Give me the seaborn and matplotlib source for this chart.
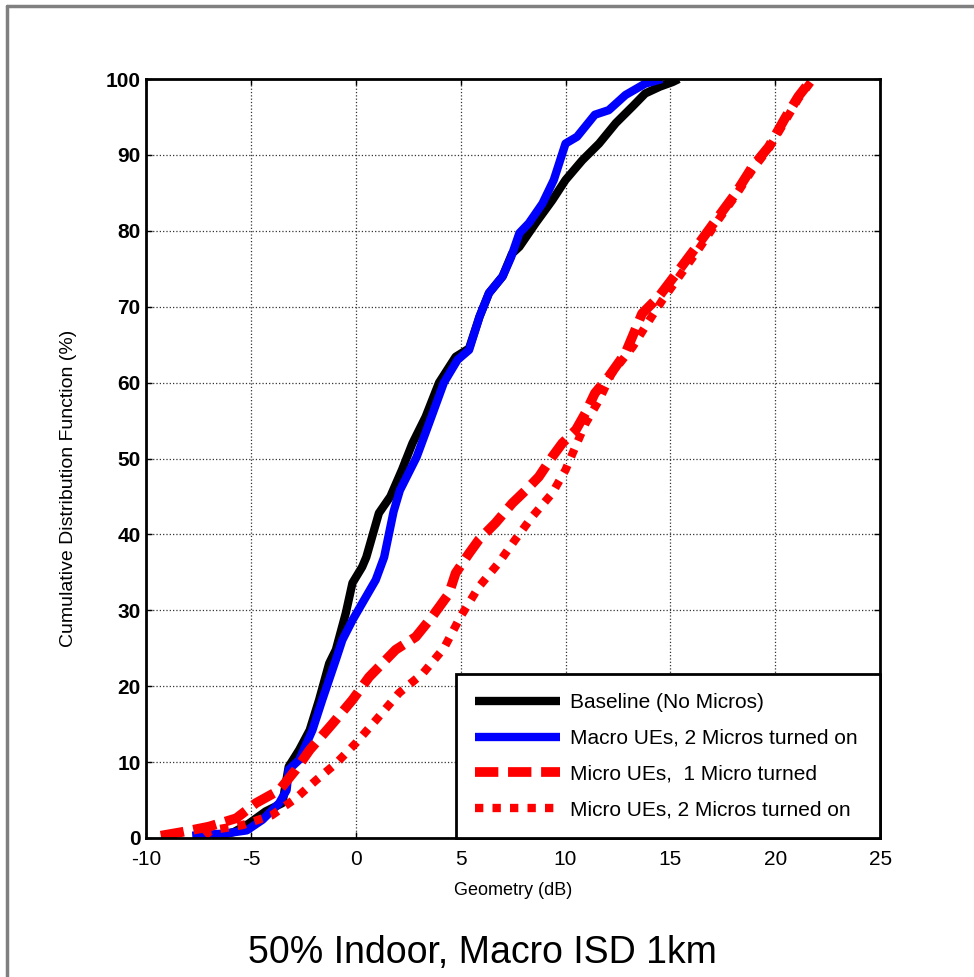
import numpy as np
import pandas as pd
import matplotlib
matplotlib.use('Agg')
import matplotlib.pyplot as plt
from matplotlib.lines import Line2D
import seaborn as sns

# ---- data ----
base_x = [-7.3, -6.5, -5.8, -5.1, -4.3, -3.5, -3.2, -2.7, -2.2, -1.75, -1.27, -0.95, -0.48,
          -0.16, 0.3, 0.5, 1.1, 1.65, 2.2, 2.7, 3.33, 3.97, 4.76, 5.4, 5.9, 6.35, 7.0, 7.45,
          7.8, 8.57, 9.36, 10.0, 10.8, 11.6, 12.4, 13.2, 13.8, 14.5, 15.1, 15.4]
base_y = [0, 0.3, 0.8, 1.9, 3.5, 4.6, 9.4, 11.6, 14.2, 18.2, 23, 24.8, 29.6,
          33.6, 35.7, 37, 42.8, 45, 48.5, 52, 55.5, 60, 63.4, 64.5, 68.7, 71.8, 74, 77,
          77.9, 81, 84, 86.7, 89.3, 91.5, 94.2, 96.4, 98.1, 99, 99.6, 100]

macro_x = [-7.8, -6.2, -5.2, -4.45, -3.65, -3.3, -3.2, -2.7, -2.07, -1.6, -0.95, -0.64, -0.16,
           0.3, 0.95, 1.35, 1.8, 2.1, 2.9, 3.5, 4.2, 4.85, 5.4, 5.9, 6.35, 7.0, 7.4, 7.8,
           8.25, 8.9, 9.44, 10.0, 10.55, 11.4, 12.06, 12.86, 13.8, 14.6]
macro_y = [0.3, 0.6, 1.0, 2.4, 4.6, 6.3, 9, 10.3, 14.2, 18.2, 23.5, 26.1, 28.7,
           30.9, 34, 37, 43, 45.8, 50.2, 54.7, 60, 63, 64.3, 68.7, 71.8, 74, 76.5, 79.7,
           81, 83.6, 86.7, 91.5, 92.4, 95.3, 95.9, 97.9, 99.4, 100]

micro1_x = [-9.3, -8.26, -7, -5.7, -4.76, -3.65, -2.86, -2.2, -1.1, -0.16, 0.63, 1.9, 2.86,
            3.65, 4.44, 4.76, 5.4, 5.87, 6.66, 7.46, 8.1, 8.73, 9.36, 9.84, 10.5, 10.95,
            11.4, 12.06, 12.86, 13.65, 14.44, 15.4, 16.35, 17.3, 18.1, 18.9, 19.7, 20.5,
            21.1, 21.75]
micro1_y = [0.3, 0.8, 1.5, 2.6, 4.6, 6.3, 9, 11.6, 15.1, 18.2, 21.2, 24.8, 26.5,
            29.2, 32.2, 34.9, 37.5, 39.3, 41.5, 44.1, 45.8, 47.6, 50.2, 52, 53.8, 56,
            58.6, 60.8, 63.9, 69.1, 71.3, 74.8, 78.3, 81.9, 84.9, 88.4, 91.1, 95,
            97.7, 100]

micro2_x = [-7.2, -6.9, -5.4, -4.0, -2.87, -1.9, -0.95, 0, 0.95, 2.06, 3.2, 4.2, 5.0,
            5.87, 6.8, 7.6, 8.4, 9.36, 10.0, 10.48, 10.95, 11.6, 12.2, 13.2, 13.9, 14.6,
            15.5, 16.4, 17.3, 18.1, 18.9, 19.7, 20.5, 21.1, 21.8]
micro2_y = [0.3, 1.0, 1.7, 3.0, 5.2, 7.6, 9.8, 12.5, 15.5, 19.1, 21.7, 25.0, 29.2,
            33.1, 36.2, 39.3, 42.3, 45.4, 48.5, 51.6, 54.6, 57.7, 61.2, 64.7, 67.8, 70.8,
            74.3, 77.8, 81.5, 84.6, 88.0, 90.9, 94.6, 97.4, 100]

labels = ['Baseline (No Micros)', 'Macro UEs, 2 Micros turned on',
          'Micro UEs,  1 Micro turned', 'Micro UEs, 2 Micros turned on']
x_ticks = [-10, -5, 0, 5, 10, 15, 20, 25]
x_ticklabels = ['-10', '-5', '0', '5', '10', '15', '20', '25']
y_ticks = [0, 10, 20, 30, 40, 50, 60, 70, 80, 90, 100]

sns.set_style('white')
plt.rcParams['font.family'] = ['Liberation Sans', 'DejaVu Sans']
plt.rcParams['text.color'] = 'black'
plt.rcParams['axes.labelcolor'] = 'black'
plt.rcParams['xtick.color'] = 'black'
plt.rcParams['ytick.color'] = 'black'

fig = plt.figure(figsize=(9.74, 9.77), dpi=100)
ax = fig.add_axes([0.150, 0.1423, 0.7536, 0.7768])

sns.lineplot(x=base_x, y=base_y, sort=False, estimator=None, ax=ax, color='black',
             lw=6, label=labels[0], solid_capstyle='butt')
sns.lineplot(x=macro_x, y=macro_y, sort=False, estimator=None, ax=ax, color='#0000ff',
             lw=6, label=labels[1], solid_capstyle='butt')
sns.lineplot(x=micro1_x, y=micro1_y, sort=False, estimator=None, ax=ax, color='#ff0000',
             lw=7, label=labels[2], linestyle=(0, (2.4, 1.0)), dash_capstyle='butt')
sns.lineplot(x=micro2_x, y=micro2_y, sort=False, estimator=None, ax=ax, color='#ff0000',
             lw=6, label=labels[3], linestyle=(0, (1.0, 1.1)), dash_capstyle='butt')

ax.set_xlim(-10, 25)
ax.set_ylim(0, 100)
ax.set_xticks(x_ticks)
ax.set_xticklabels(x_ticklabels, fontsize=15)
ax.set_yticks(y_ticks)
ax.set_yticklabels([str(v) for v in y_ticks], fontsize=15, fontweight='bold')
ax.tick_params(direction='in', length=4, width=1, top=True, right=True,
               bottom=True, left=True, color='black', labelcolor='black')
ax.tick_params(axis='x', pad=9)
ax.tick_params(axis='y', pad=4)

ax.grid(True, linestyle=':', color='#333333', lw=0.9)
for s in ax.spines.values():
    s.set_color('black')
    s.set_linewidth(2)

ax.set_xlabel('Geometry (dB)', fontsize=13, color='black')
ax.xaxis.set_label_coords(0.5, -0.058)
ax.set_ylabel('Cumulative Distribution Function (%)', fontsize=14, color='black')
ax.yaxis.set_label_coords(-0.094, 0.46)

# legend box spans from x=456 px to the right edge of the axes
leg_x0 = (456 - 146) / 734
leg = ax.legend(loc='lower left', bbox_to_anchor=(leg_x0, 0.0, 1 - leg_x0, 0.2),
                mode='expand', borderaxespad=0,
                fontsize=15, frameon=True, fancybox=False, edgecolor='black',
                handlelength=4.1, handletextpad=0.45, labelspacing=0.8,
                borderpad=0.9, framealpha=1)
leg.get_frame().set_linewidth(2)
for t in leg.get_texts():
    t.set_color('black')

fig.text(0.4955, 0.0143, '50% Indoor, Macro ISD 1km', fontsize=27,
         ha='center', va='baseline', color='black')

# grey frame round the picture (top and left edges are visible)
fig.add_artist(Line2D([7 / 974, 1.0], [1 - 6 / 977, 1 - 6 / 977],
                      transform=fig.transFigure, color='#808080', lw=2.5))
fig.add_artist(Line2D([7 / 974, 7 / 974], [0.0, 1 - 6 / 977],
                      transform=fig.transFigure, color='#808080', lw=2.5))

fig.savefig('out.png', dpi=100)
